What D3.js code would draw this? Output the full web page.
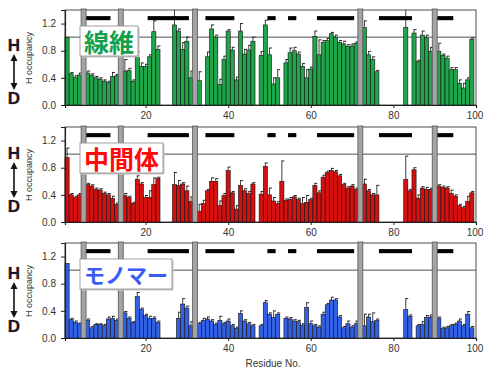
<!DOCTYPE html>
<html>
<head>
<meta charset="utf-8">
<script src="https://cdn.jsdelivr.net/npm/d3@7"></script>
<style>
  body { margin: 0; background: #fff; }
  svg { display: block; }
  text { font-family: "Liberation Sans", Arial, sans-serif; }
</style>
</head>
<body>
<div id="chart"></div>
<script>
// residue numbers 1..99, prolines shown as grey bands, beta strands as black bars
const residues = d3.range(1, 100);
const prolines = [5, 14, 32, 72, 90];
const strands = [[6, 11], [21, 30], [35, 41], [50, 51], [55, 56], [62, 70], [77, 84], [91, 94]];
const xTicks = [20, 40, 60, 80, 100];
const yTicks = [0, 0.4, 0.8, 1.2];
const panelNames = ["線維", "中間体", "モノマー"];

// H occupancy, fibril state
const fibril = [1.00,0.46,0.40,0.44,null,0.47,0.44,0.40,0.38,0.35,
  0.33,0.42,0.43,null,0.50,0.51,0.35,0.70,0.57,0.57,
  0.71,1.08,0.82,null,null,null,1.18,1.09,0.82,0.94,
  0.40,null,0.36,null,0.71,1.12,1.00,0.30,0.67,1.09,
  0.81,0.37,1.09,0.75,0.81,0.94,null,0.73,1.18,0.74,
  0.31,0.40,null,0.62,0.77,0.80,0.75,0.57,0.40,0.53,
  1.01,0.74,0.92,0.95,1.05,1.00,0.92,0.90,0.86,0.87,
  0.91,null,1.14,0.74,0.67,0.49,null,null,null,null,
  null,null,1.14,null,1.06,0.64,1.03,0.99,0.79,null,
  0.79,0.73,0.69,0.52,0.52,0.32,0.25,0.37,0.97];
const fibrilErr = [0,.02,.03,.03,0,.03,.02,.02,.02,.02,
  .02,.06,.02,0,.17,.03,.02,.08,.05,.03,
  .03,.16,.05,0,0,0,.24,.03,.10,.06,
  .10,0,.13,0,.07,.06,.03,.08,.05,.02,
  .04,.04,.11,.07,.07,.06,0,.06,.07,.10,
  .09,.12,0,.05,.07,.05,.03,.04,.12,.03,
  .08,.22,.03,.03,.02,.03,.03,.04,.03,.03,
  .02,0,.10,.05,.04,.02,0,0,0,0,
  0,0,.26,0,.05,.02,.06,.04,.06,0,
  .12,.02,.03,.03,.03,.05,.07,.03,.02];

// intermediate state
const inter = [0.95,0.40,0.36,0.40,null,0.55,0.53,0.48,0.47,0.42,
  0.40,0.35,0.26,null,0.39,0.36,0.27,0.63,0.56,0.36,
  0.36,0.55,0.64,null,null,null,0.55,0.54,0.56,0.46,
  0.30,null,0.16,0.27,0.46,0.60,0.60,0.24,0.39,0.76,
  0.43,0.19,0.54,0.46,0.42,0.56,null,0.41,0.82,0.40,
  0.31,0.27,0.60,0.32,0.33,0.37,0.33,0.27,0.29,0.33,
  0.54,0.43,0.66,0.73,0.76,0.74,0.68,0.55,0.50,0.53,
  0.48,null,0.56,0.46,0.40,0.40,null,null,null,null,
  null,null,0.63,0.46,0.77,0.35,0.50,0.48,0.48,null,
  0.53,0.51,0.50,0.42,0.38,0.24,0.21,0.30,0.43];
const interErr = [.14,.02,.02,.02,0,.02,.02,.02,.02,.02,
  .02,.03,.02,0,.03,.02,.02,.05,.02,.03,
  .10,.10,.02,0,0,0,.18,.07,.02,.07,
  .07,0,.10,.05,.02,.05,.04,.07,.03,.05,
  .02,.05,.07,.03,.03,.02,0,.04,.05,.10,
  .05,.03,.30,.02,.03,.02,.02,.09,.10,.02,
  .03,.03,.03,.02,.03,.02,.02,.02,.02,.02,
  .02,0,.07,.02,.02,.14,0,0,0,0,
  0,0,.34,.02,.03,.05,.02,.03,.02,0,
  .02,.02,.02,.05,.02,.02,.02,.08,.02];

// monomer state
const monomer = [1.10,0.27,0.23,0.21,null,0.26,0.15,0.20,0.20,0.18,
  0.28,0.29,0.26,null,0.37,0.29,0.23,0.61,0.42,0.33,
  0.29,0.29,0.23,null,null,null,null,0.29,0.50,0.44,
  0.18,null,0.21,0.26,0.28,0.25,0.20,0.26,0.21,0.25,
  0.18,0.14,0.36,0.25,0.21,0.18,null,0.18,0.52,0.35,
  0.30,0.35,null,0.29,0.28,0.25,0.24,0.19,0.45,0.21,
  0.18,0.16,0.35,0.49,0.56,0.56,0.31,0.15,0.21,0.16,
  0.21,null,0.18,0.31,0.24,0.26,null,null,null,null,
  null,null,0.42,0.32,null,0.18,0.20,0.30,0.31,null,
  0.29,0.14,0.15,0.18,0.20,0.25,0.18,0.35,0.15];
const monomerErr = [0,.02,.02,.01,0,.02,.02,.01,.01,.02,
  .03,.03,.02,0,.02,.02,.01,.06,.02,.02,
  .03,.02,.02,0,0,0,0,.09,.08,.03,
  .06,0,.02,.03,.03,.02,.02,.06,.02,.03,
  .02,.02,.04,.02,.02,.02,0,.02,.03,.02,
  .10,.02,0,.02,.02,.02,.02,.02,.07,.04,
  .02,.02,.03,.02,.04,.02,.02,.02,.04,.02,
  .04,0,.17,.04,.13,.02,0,0,0,0,
  0,0,.16,.02,0,.02,.04,.03,.03,0,
  .02,.02,.02,.02,.02,.03,.02,.04,.02];

const series = [fibril, inter, monomer];
const errors = [fibrilErr, interErr, monomerErr];
const barColors = ["#1fa64a", "#d60f0f", "#3361e6"];
const nameColors = ["#11a04c", "#ff0a0a", "#3a5cf5"];
const nameSizes = [25, 25, 21];

// layout
const width = 484;
const height = 370;
const panelTop = [10, 127, 243];
const panelH = 95;
const hOffset = [35, 26, 30];

const svg = d3.select("#chart")
  .append("svg")
    .attr("width", width)
    .attr("height", height);

const x = d3.scaleLinear()
  .domain([0.5, 100])
  .range([65, 476]);

series.forEach((vals, i) => {
  const top = panelTop[i];
  const y = d3.scaleLinear()
    .domain([0, 1.4])
    .range([top + panelH, top]);

  const g = svg.append("g");

  // frame
  g.append("rect")
    .attr("x", x(0.5))
    .attr("y", y(1.4))
    .attr("width", x(100) - x(0.5))
    .attr("height", y(0) - y(1.4))
    .attr("fill", "none")
    .attr("stroke", "#222")
    .attr("stroke-width", 0.8);

  // reference line at 1.0
  g.append("line")
    .attr("x1", x(0.5)).attr("x2", x(100))
    .attr("y1", y(1)).attr("y2", y(1))
    .attr("stroke", "#222")
    .attr("stroke-width", 0.8);

  const rows = residues
    .map((r, j) => ({ r: r, v: vals[j], e: errors[i][j] }))
    .filter((d) => d.v != null);

  // error bars
  const err = rows.filter((d) => d.e > 0);
  g.selectAll("line.err")
    .data(err)
    .join("line")
      .attr("x1", (d) => x(d.r)).attr("x2", (d) => x(d.r))
      .attr("y1", (d) => y(d.v))
      .attr("y2", (d) => y(Math.min(d.v + d.e, 1.4)))
      .attr("stroke", "#111")
      .attr("stroke-width", 0.8);
  g.selectAll("line.cap")
    .data(err.filter((d) => d.v + d.e < 1.4))
    .join("line")
      .attr("x1", (d) => x(d.r) - 0.5).attr("x2", (d) => x(d.r) + 2.5)
      .attr("y1", (d) => y(d.v + d.e)).attr("y2", (d) => y(d.v + d.e))
      .attr("stroke", "#111")
      .attr("stroke-width", 0.9);

  // bars
  g.selectAll("rect.bar")
    .data(rows)
    .join("rect")
      .attr("x", (d) => x(d.r - 0.5))
      .attr("width", x(1.5) - x(0.5))
      .attr("y", (d) => y(d.v))
      .attr("height", (d) => y(0) - y(d.v))
      .attr("fill", barColors[i])
      .attr("stroke", "#111")
      .attr("stroke-width", 0.6);

  // beta strands
  g.selectAll("rect.strand")
    .data(strands)
    .join("rect")
      .attr("x", (d) => x(d[0] - 0.5))
      .attr("width", (d) => x(d[1] + 0.5) - x(d[0] - 0.5))
      .attr("y", y(1.31))
      .attr("height", y(1.25) - y(1.31))
      .attr("fill", "#000");

  // proline bands
  g.selectAll("rect.pro")
    .data(prolines)
    .join("rect")
      .attr("x", (d) => x(d - 0.6))
      .attr("width", x(1.7) - x(0.5))
      .attr("y", y(1.4) - 1)
      .attr("height", y(0) - y(1.4) + 1)
      .attr("fill", "#a4a4a4")
      .attr("stroke", "#555")
      .attr("stroke-width", 0.8);

  // axes
  const ax = g.append("g")
    .attr("transform", `translate(${x(0.5)},0)`)
    .call(d3.axisLeft(y).tickValues(yTicks).tickFormat(d3.format(".1f")).tickSize(4).tickPadding(5));
  const bx = g.append("g")
    .attr("transform", `translate(0,${y(0)})`)
    .call(d3.axisBottom(x).tickValues(xTicks).tickFormat(d3.format("d")).tickSize(3).tickPadding(4));
  [ax, bx].forEach((a) => {
    a.select(".domain").attr("stroke", "#222").attr("stroke-width", 1.2);
    a.selectAll(".tick line").attr("stroke", "#222");
    a.selectAll("text")
      .attr("fill", "#333")
      .style("font-size", "10px")
      .style("font-family", "'Liberation Sans', Arial, sans-serif");
  });
  // keep the last label inside the window
  bx.selectAll(".tick text").filter((d) => d === 100).attr("dx", "-1.5");

  // y label
  g.append("text")
    .attr("transform", `translate(32,${top + 48}) rotate(-90)`)
    .attr("text-anchor", "middle")
    .attr("fill", "#333")
    .style("font-size", "9px")
    .text("H occupancy");

  // H / D with double arrow
  const hy = top + hOffset[i];
  g.append("text")
    .attr("x", 14).attr("y", hy + 6)
    .attr("text-anchor", "middle")
    .attr("fill", "#141438")
    .attr("stroke", "#f0a030").attr("stroke-width", 0.7)
    .style("paint-order", "stroke")
    .style("font-size", "17px").style("font-weight", "bold")
    .text("H");
  g.append("text")
    .attr("x", 14).attr("y", hy + 59)
    .attr("text-anchor", "middle")
    .attr("fill", "#141438")
    .attr("stroke", "#f0a030").attr("stroke-width", 0.7)
    .style("paint-order", "stroke")
    .style("font-size", "17px").style("font-weight", "bold")
    .text("D");
  const a0 = hy + 9, a1 = hy + 45;
  g.append("line")
    .attr("x1", 14).attr("x2", 14)
    .attr("y1", a0 + 5).attr("y2", a1 - 5)
    .attr("stroke", "#111").attr("stroke-width", 1.6);
  g.append("path")
    .attr("d", `M14,${a0} L10.5,${a0 + 7} L17.5,${a0 + 7} Z M14,${a1} L10.5,${a1 - 7} L17.5,${a1 - 7} Z`)
    .attr("fill", "#111");

  // state label box
  const lab = g.append("g");
  const shadow = lab.append("rect");
  const box = lab.append("rect");
  const t = lab.append("text")
    .attr("x", 84)
    .attr("y", top + 31)
    .attr("dominant-baseline", "central")
    .attr("fill", nameColors[i])
    .style("font-family", "'Noto Sans CJK JP', sans-serif")
    .style("font-weight", "bold")
    .style("font-size", nameSizes[i] + "px")
    .text(panelNames[i]);
  const w = t.node().getComputedTextLength() + 8;
  shadow.attr("x", 81.5).attr("y", top + 17.5).attr("width", w).attr("height", 30).attr("fill", "#c8c8c8");
  box.attr("x", 80).attr("y", top + 16).attr("width", w).attr("height", 30)
    .attr("fill", "#fff").attr("stroke", "#888").attr("stroke-width", 0.8);
});

svg.append("text")
  .attr("x", 273)
  .attr("y", 367)
  .attr("text-anchor", "middle")
  .attr("fill", "#333")
  .style("font-size", "10px")
  .text("Residue No.");
</script>
</body>
</html>
